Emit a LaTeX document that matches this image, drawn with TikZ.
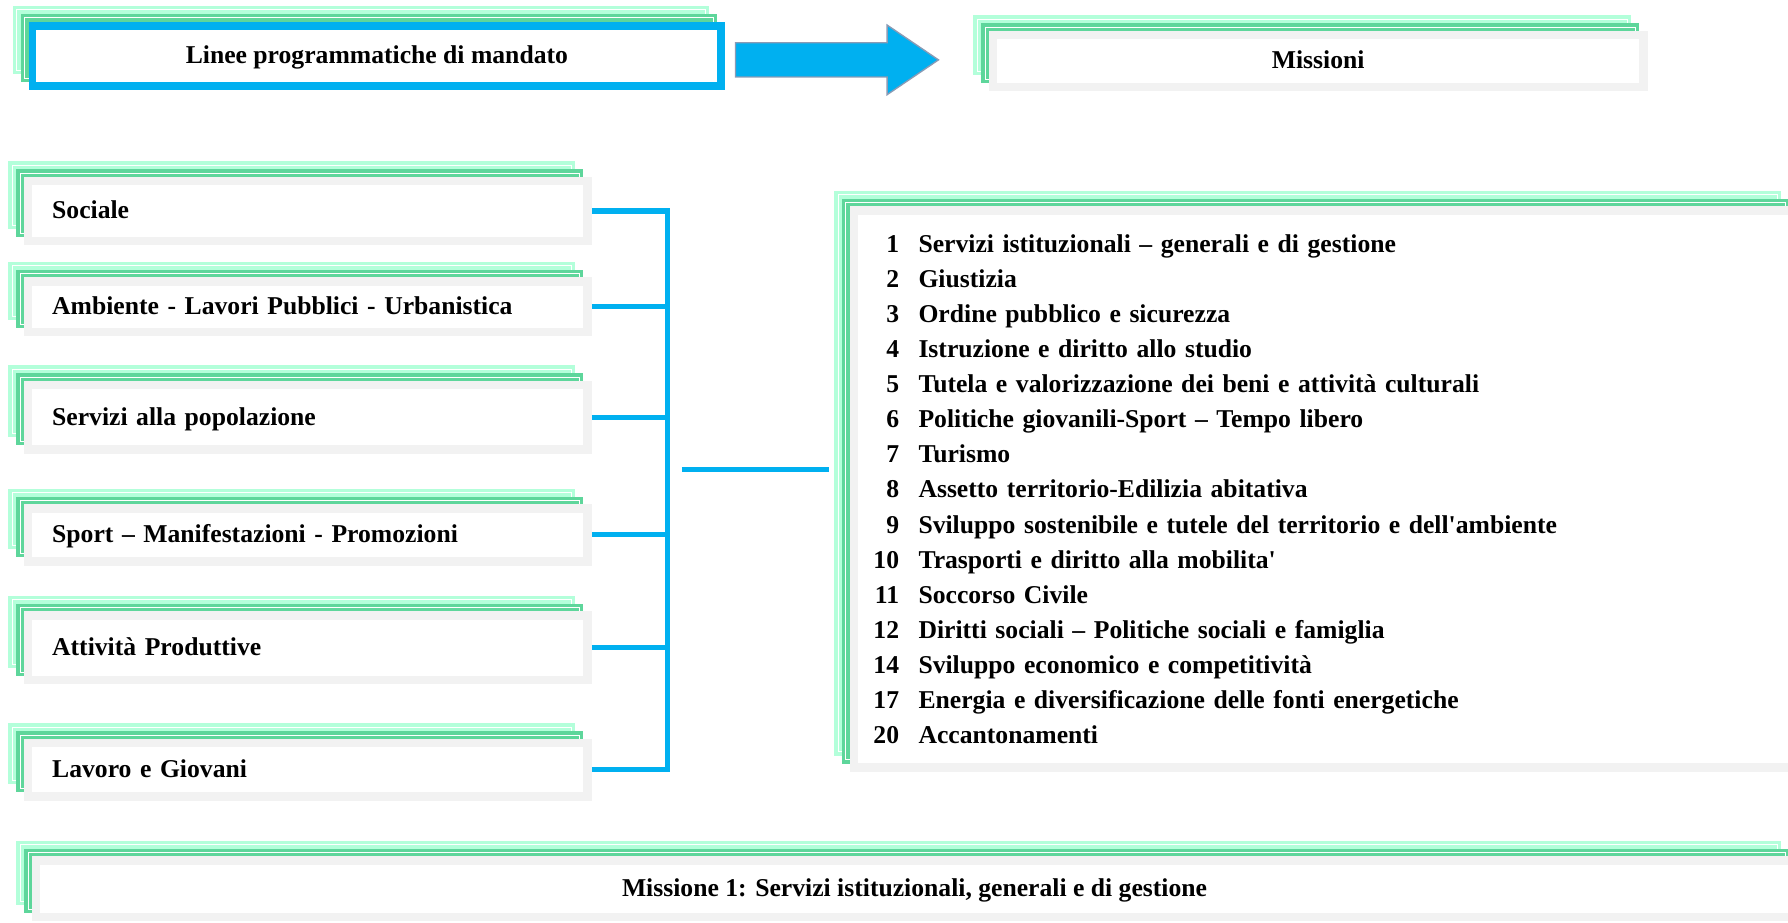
\documentclass[tikz,border=0pt]{standalone}
\usepackage{fontspec}
\setmainfont{Liberation Serif}
\usetikzlibrary{shadows}

\definecolor{sky}{HTML}{00B0F0}
\definecolor{mint}{HTML}{B3FFDA}
\definecolor{leaf}{HTML}{5ED69B}
\definecolor{frame}{HTML}{F2F2F2}
\definecolor{rim}{HTML}{8A9BB5}

\newcommand{\voce}[2]{\makebox[23pt][r]{#1}\hspace{17pt}#2}

\tikzset{
  layer/.style={draw=#1, fill=#1, line width=3pt, double=white, double distance=0.6pt},
  stacked/.style={general shadow={shadow xshift=-14pt, shadow yshift=14pt, layer=mint},
                  general shadow={shadow xshift=-7pt, shadow yshift=7pt, layer=leaf}},
  card/.style={stacked, rectangle, draw=frame, line width=7.5pt, fill=white,
               font=\fontsize{22.5}{30.8}\selectfont\bfseries, inner sep=0pt},
  oneline/.style={text height=19pt, text depth=5pt},
  leftcard/.style={card, oneline, align=left, text width=#1, inner xsep=21pt},
  link/.style={draw=sky, line width=4.5pt}
}

\begin{document}
\begin{tikzpicture}[x=1pt,y=-1pt]
\useasboundingbox (0,0) rectangle (1568,809);

% title row
\node[card, oneline, draw=sky, line width=7pt, minimum width=604pt, minimum height=53pt] (linee) at (330.5,49) {Linee programmatiche di mandato};
\node[card, oneline, minimum width=570.5pt, minimum height=45.5pt] (missioni) at (1156,53.5) {Missioni};
\draw[fill=sky, draw=rim, line width=1.2pt] (645,37.5) -- (778,37.5) -- (778,22) -- (823,52.5)
  -- (778,83) -- (778,67.5) -- (645,67.5) -- cycle;

% programme lines
\node[leftcard=448.5pt, minimum height=52.5pt] (sociale) at (270,185) {Sociale};
\node[leftcard=448.5pt, minimum height=44.5pt] (ambiente) at (270,269) {Ambiente - Lavori Pubblici - Urbanistica};
\node[leftcard=448.5pt, minimum height=56.5pt] (servizi) at (270,366) {Servizi alla popolazione};
\node[leftcard=448.5pt, minimum height=46.5pt] (sport) at (270,469) {Sport – Manifestazioni - Promozioni};
\node[leftcard=448.5pt, minimum height=56.5pt] (attivita) at (270,568) {Attività Produttive};
\node[leftcard=448.5pt, minimum height=46.5pt] (lavoro) at (270,675) {Lavoro e Giovani};

% missions
\node[card, align=left, text width=790pt, inner xsep=16.75pt, minimum width=823.5pt, minimum height=488.5pt] (elenco) at (1160.5,429) {%
\voce{1}{Servizi istituzionali – generali e di gestione}\\
\voce{2}{Giustizia}\\
\voce{3}{Ordine pubblico e sicurezza}\\
\voce{4}{Istruzione e diritto allo studio}\\
\voce{5}{Tutela e valorizzazione dei beni e attività culturali}\\
\voce{6}{Politiche giovanili-Sport – Tempo libero}\\
\voce{7}{Turismo}\\
\voce{8}{Assetto territorio-Edilizia abitativa}\\
\voce{9}{Sviluppo sostenibile e tutele del territorio e dell\textquotesingle ambiente}\\
\voce{10}{Trasporti e diritto alla mobilita\textquotesingle}\\
\voce{11}{Soccorso Civile}\\
\voce{12}{Diritti sociali – Politiche sociali e famiglia}\\
\voce{14}{Sviluppo economico e competitività}\\
\voce{17}{Energia e diversificazione delle fonti energetiche}\\
\voce{20}{Accantonamenti}};

\node[card, oneline, minimum width=1540.5pt, minimum height=49.5pt] (missione1) at (802,779.5) {Missione 1: Servizi istituzionali, generali e di gestione};

% bracket
\coordinate (spine) at (585,412);
\coordinate (hub) at (598,412);
\coordinate (gate) at ([xshift=-18pt]elenco.west);
\draw[link] (sociale.east) -- (sociale.east -| spine) -- (lavoro.east -| spine) -- (lavoro.east);
\draw[link] (ambiente.east) -- (ambiente.east -| spine);
\draw[link] (servizi.east) -- (servizi.east -| spine);
\draw[link] (sport.east) -- (sport.east -| spine);
\draw[link] (attivita.east) -- (attivita.east -| spine);
\draw[link] (hub) -- (hub -| gate);
\end{tikzpicture}
\end{document}
